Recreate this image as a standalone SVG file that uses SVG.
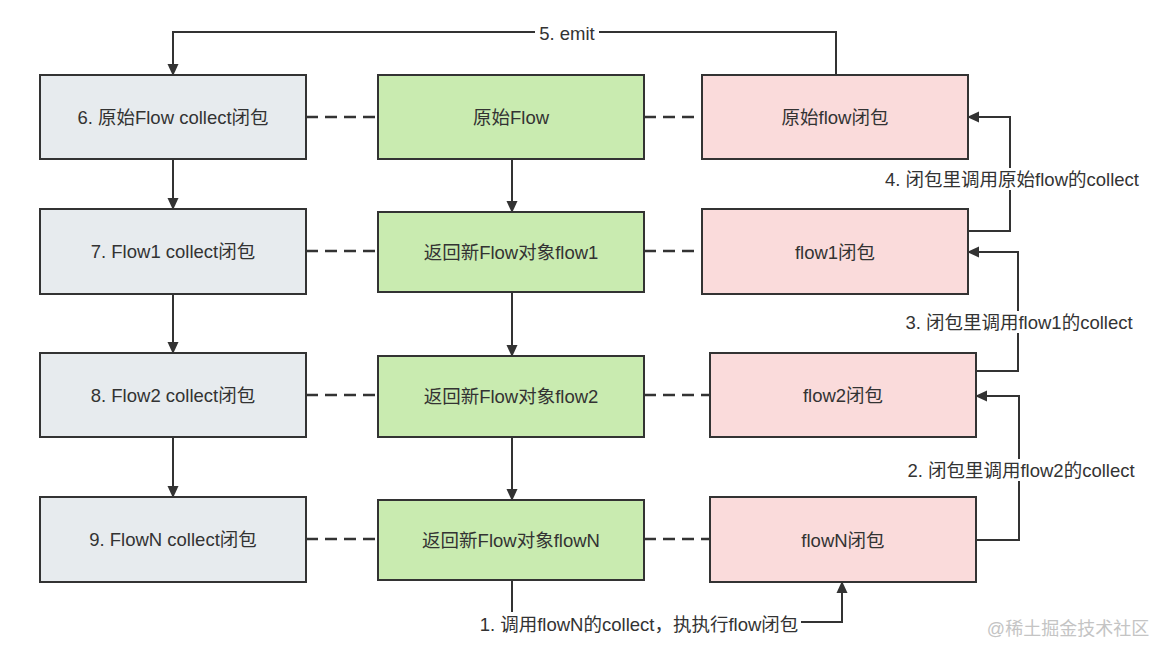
<svg xmlns="http://www.w3.org/2000/svg" width="1168" height="658" viewBox="0 0 1168 658">
<defs>
<marker id="ah" markerWidth="12" markerHeight="12" viewBox="0 0 12 12" refX="11" refY="6" orient="auto" markerUnits="userSpaceOnUse">
<path d="M0,0.5 L12,6 L0,11.5 Z" fill="#333"/>
</marker>
<style>
.box{stroke:#333;stroke-width:2}
.g{fill:#e7ebee}.v{fill:#c9ebb0}.p{fill:#fadbdb}
text{font-family:"Liberation Sans","Noto Sans CJK SC",sans-serif;font-size:18.5px;fill:#333}
.t{text-anchor:middle;dominant-baseline:central}
.c{fill:none;stroke:#333;stroke-width:2}
.d{fill:none;stroke:#333;stroke-width:2.5;stroke-dasharray:12 7}
.lb{fill:#fff}
</style>
</defs>
<rect width="1168" height="658" fill="#fff"/>
<g id="connectors">
<path class="d" d="M306,117 H378 M644,117 H702"/>
<path class="d" d="M306,251 H378 M644,251 H702"/>
<path class="d" d="M306,395 H378 M644,395 H710"/>
<path class="d" d="M306,539 H378 M644,539 H710"/>
<path class="c" marker-end="url(#ah)" d="M173,159 V209"/>
<path class="c" marker-end="url(#ah)" d="M173,294 V353"/>
<path class="c" marker-end="url(#ah)" d="M173,437 V497"/>
<path class="c" marker-end="url(#ah)" d="M512,159 V212"/>
<path class="c" marker-end="url(#ah)" d="M512,292 V356"/>
<path class="c" marker-end="url(#ah)" d="M512,437 V500"/>
<path class="c" marker-end="url(#ah)" d="M836,75 V32 H173 V75"/>
<path class="c" marker-end="url(#ah)" d="M512,580 V622 H842 V582"/>
<path class="c" marker-end="url(#ah)" d="M976,540 H1019 V396 H976"/>
<path class="c" marker-end="url(#ah)" d="M976,371 H1018 V252 H968"/>
<path class="c" marker-end="url(#ah)" d="M968,231 H1010 V117 H968"/>
<rect class="lb" x="535" y="22" width="64" height="20"/>
<text x="567" y="33" class="t">5. emit</text>
<rect class="lb" x="878" y="168" width="268" height="22"/>
<text x="1012" y="179" class="t">4. 闭包里调用原始flow的collect</text>
<rect class="lb" x="900" y="311" width="238" height="22"/>
<text x="1019" y="322" class="t">3. 闭包里调用flow1的collect</text>
<rect class="lb" x="900" y="459" width="242" height="22"/>
<text x="1021" y="470" class="t">2. 闭包里调用flow2的collect</text>
<rect class="lb" x="476" y="612" width="325" height="24"/>
<text x="639" y="624" class="t">1. 调用flowN的collect，执执行flow闭包</text>
</g>
<g id="n6"><rect class="box g" x="40" y="75" width="266" height="84"/><text x="173" y="117" class="t">6. 原始Flow collect闭包</text></g>
<g id="n7"><rect class="box g" x="40" y="209" width="266" height="85"/><text x="173" y="251" class="t">7. Flow1 collect闭包</text></g>
<g id="n8"><rect class="box g" x="40" y="353" width="266" height="84"/><text x="173" y="395" class="t">8. Flow2 collect闭包</text></g>
<g id="n9"><rect class="box g" x="40" y="497" width="266" height="85"/><text x="173" y="539" class="t">9. FlowN collect闭包</text></g>
<g id="f0"><rect class="box v" x="378" y="75" width="266" height="84"/><text x="511" y="117" class="t">原始Flow</text></g>
<g id="f1"><rect class="box v" x="378" y="212" width="266" height="80"/><text x="511" y="252" class="t">返回新Flow对象flow1</text></g>
<g id="f2"><rect class="box v" x="378" y="356" width="266" height="81"/><text x="511" y="396" class="t">返回新Flow对象flow2</text></g>
<g id="f3"><rect class="box v" x="378" y="500" width="266" height="80"/><text x="511" y="540" class="t">返回新Flow对象flowN</text></g>
<g id="c0"><rect class="box p" x="702" y="75" width="266" height="84"/><text x="835" y="117" class="t">原始flow闭包</text></g>
<g id="c1"><rect class="box p" x="702" y="209" width="266" height="85"/><text x="835" y="252" class="t">flow1闭包</text></g>
<g id="c2"><rect class="box p" x="710" y="353" width="266" height="84"/><text x="843" y="395" class="t">flow2闭包</text></g>
<g id="c3"><rect class="box p" x="710" y="497" width="266" height="85"/><text x="843" y="540" class="t">flowN闭包</text></g>
<text x="1068" y="629" class="t" style="fill:#c4c4c4;font-size:18px">@稀土掘金技术社区</text>
</svg>
